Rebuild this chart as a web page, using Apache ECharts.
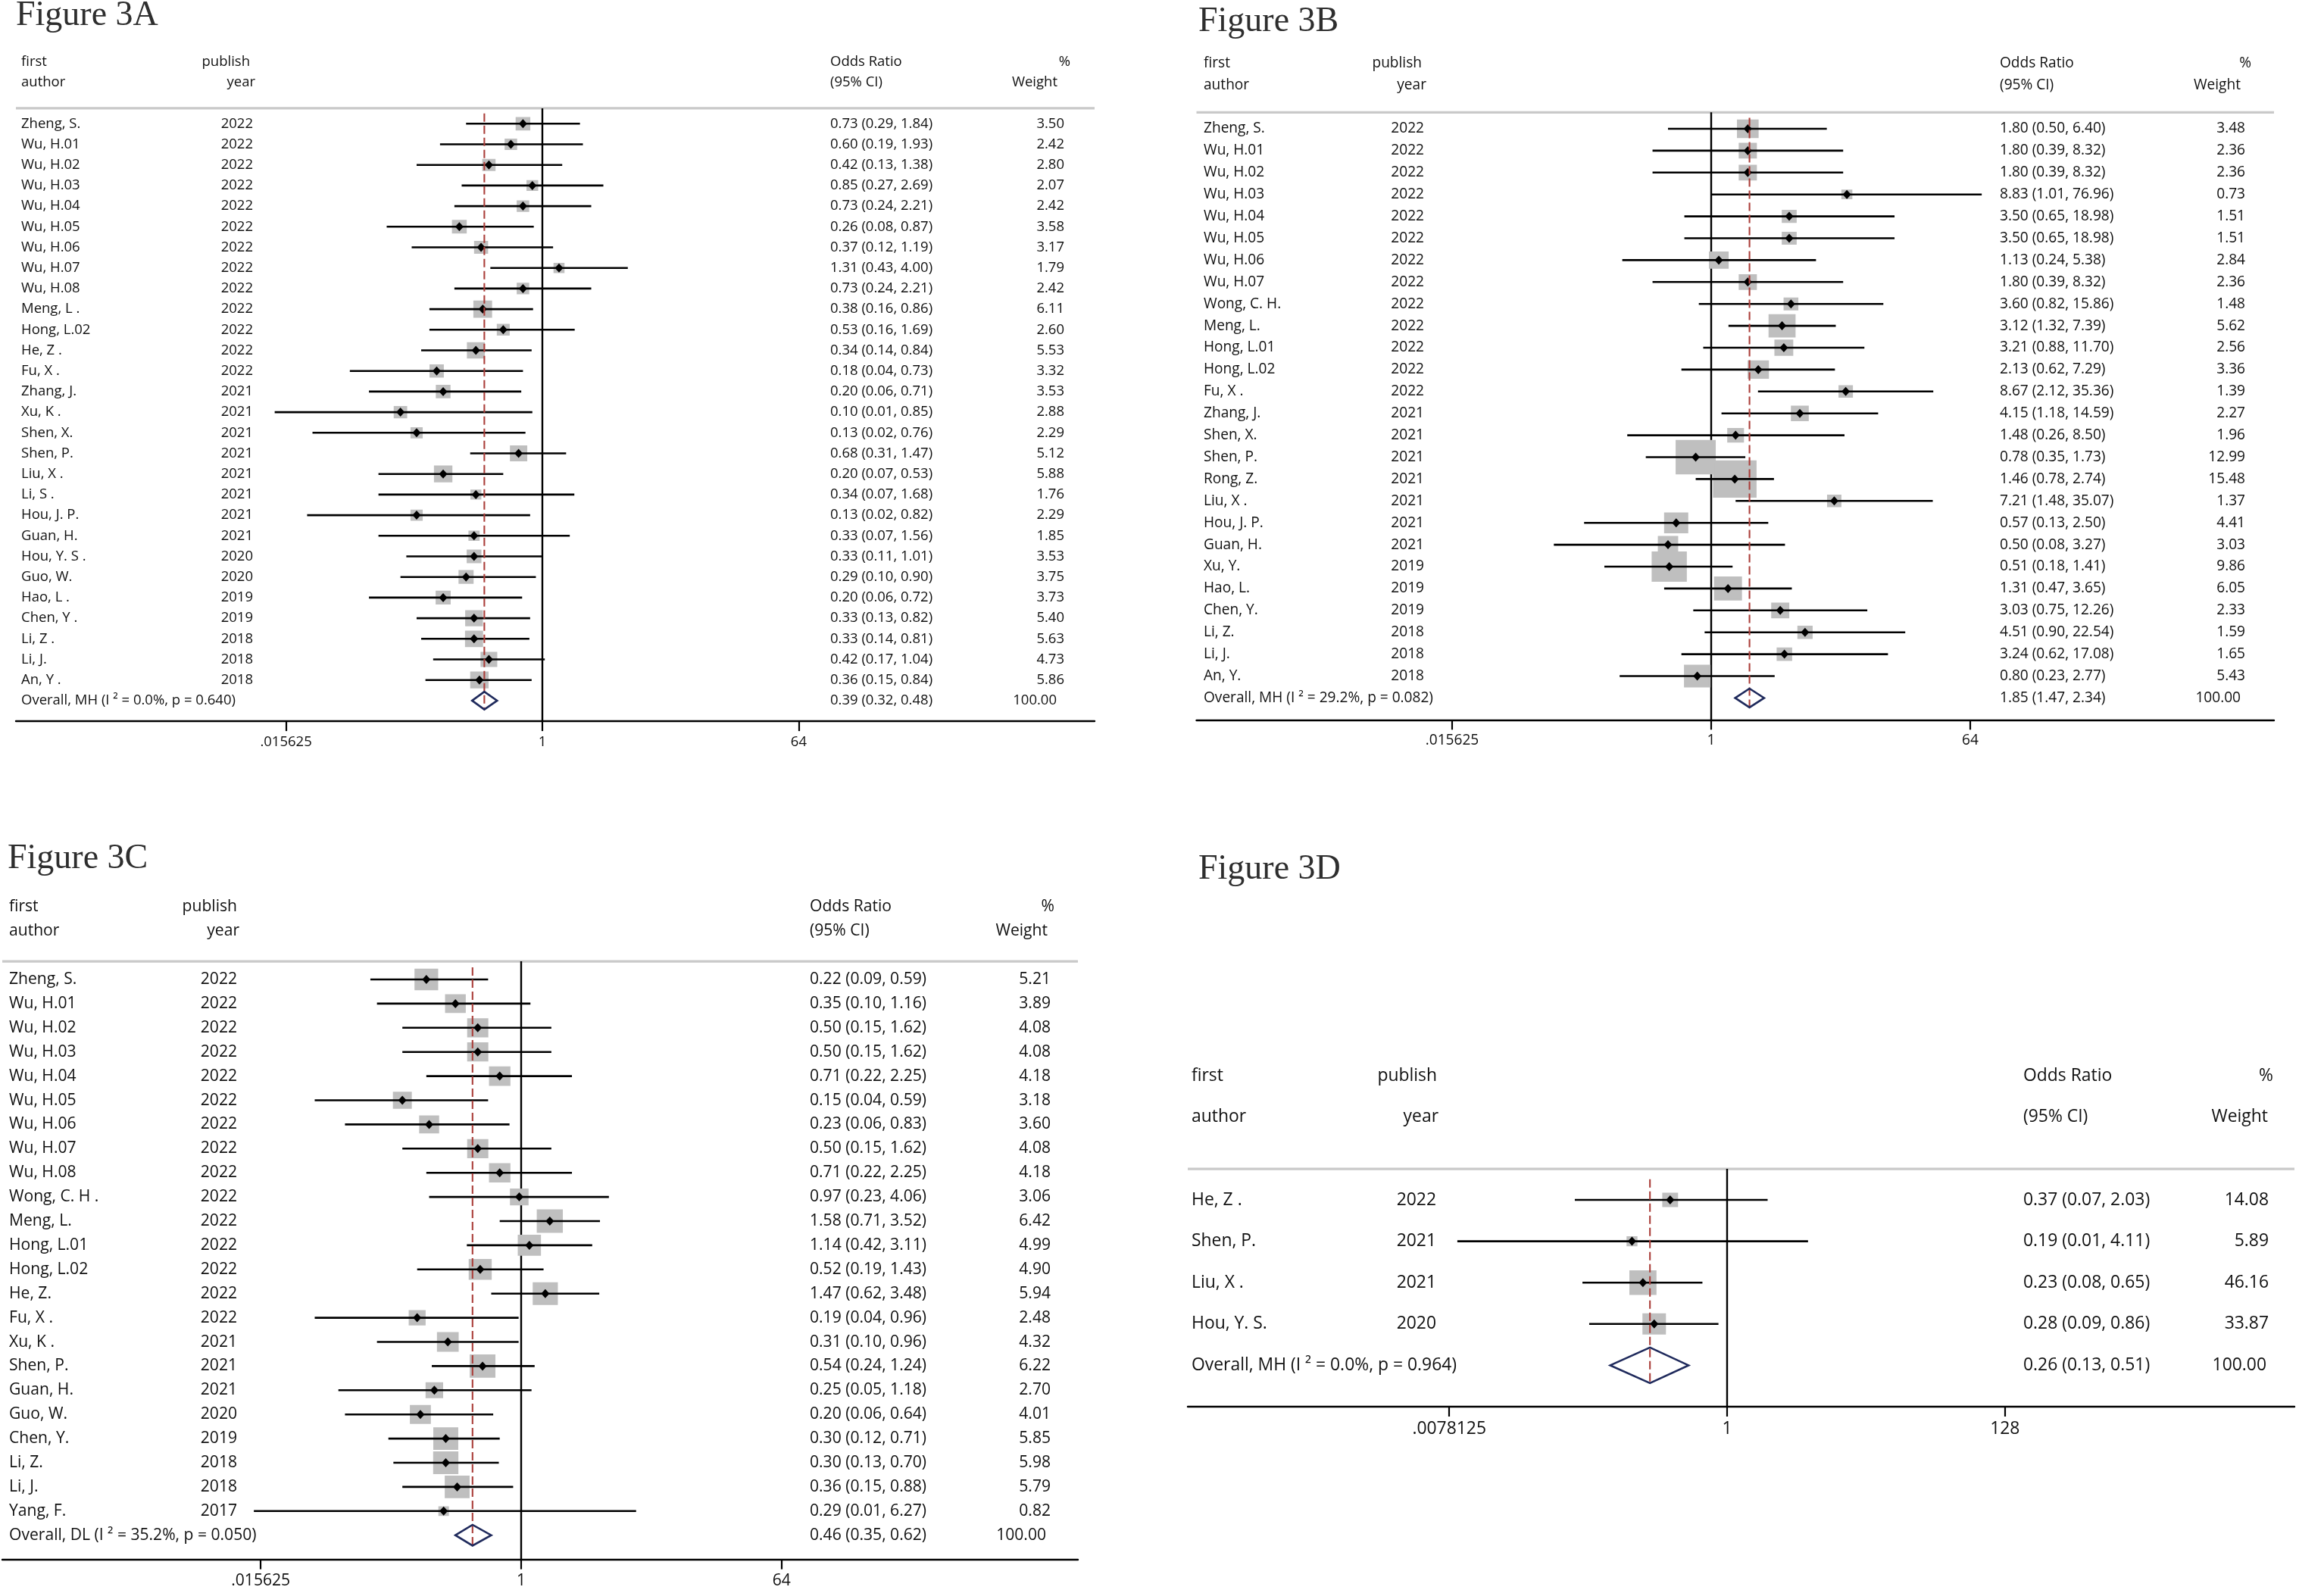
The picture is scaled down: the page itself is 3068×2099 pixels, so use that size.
<!DOCTYPE html>
<html lang="en">
<head>
<meta charset="utf-8">
<title>Figure 3 forest plots</title>
<script src="https://cdn.jsdelivr.net/npm/echarts@6.0.0/dist/echarts.min.js"></script>
<style>html,body{margin:0;padding:0;background:#fff;}</style>
</head>
<body>
<div id="main" style="width:3068px;height:2099px;"></div>
<script>
// ---- Figure 3A ----
var authorsA = ['Zheng, S.', 'Wu, H.01', 'Wu, H.02', 'Wu, H.03', 'Wu, H.04', 'Wu, H.05', 'Wu, H.06', 'Wu, H.07', 'Wu, H.08',
  'Meng, L .', 'Hong, L.02', 'He, Z .', 'Fu, X .', 'Zhang, J.', 'Xu, K .', 'Shen, X.', 'Shen, P.', 'Liu, X .', 'Li, S .',
  'Hou, J. P.', 'Guan, H.', 'Hou, Y. S .', 'Guo, W.', 'Hao, L .', 'Chen, Y .', 'Li, Z .', 'Li, J.', 'An, Y .'];
var yearsA = [2022, 2022, 2022, 2022, 2022, 2022, 2022, 2022, 2022, 2022, 2022, 2022, 2022, 2021, 2021, 2021, 2021, 2021, 2021,
  2021, 2021, 2020, 2020, 2019, 2019, 2018, 2018, 2018];
var orA = [0.73, 0.60, 0.42, 0.85, 0.73, 0.26, 0.37, 1.31, 0.73, 0.38, 0.53, 0.34, 0.18, 0.20, 0.10, 0.13, 0.68, 0.20, 0.34,
  0.13, 0.33, 0.33, 0.29, 0.20, 0.33, 0.33, 0.42, 0.36];
var lowA = [0.29, 0.19, 0.13, 0.27, 0.24, 0.08, 0.12, 0.43, 0.24, 0.16, 0.16, 0.14, 0.044, 0.06, 0.013, 0.024, 0.31, 0.07, 0.07,
  0.022, 0.07, 0.11, 0.10, 0.06, 0.13, 0.14, 0.17, 0.15];
var highA = [1.84, 1.93, 1.38, 2.69, 2.21, 0.87, 1.19, 4.00, 2.21, 0.86, 1.69, 0.84, 0.73, 0.71, 0.85, 0.76, 1.47, 0.53, 1.68,
  0.82, 1.56, 1.01, 0.90, 0.72, 0.82, 0.81, 1.04, 0.84];
var weightA = [3.50, 2.42, 2.80, 2.07, 2.42, 3.58, 3.17, 1.79, 2.42, 6.11, 2.60, 5.53, 3.32, 3.53, 2.88, 2.29, 5.12, 5.88, 1.76,
  2.29, 1.85, 3.53, 3.75, 3.73, 5.40, 5.63, 4.73, 5.86];
var overallA = [0.39, 0.32, 0.48, 100.00];
var overallLabelA = 'Overall, MH (I \u00b2 = 0.0%, p = 0.640)';

// ---- Figure 3B ----
var authorsB = ['Zheng, S.', 'Wu, H.01', 'Wu, H.02', 'Wu, H.03', 'Wu, H.04', 'Wu, H.05', 'Wu, H.06', 'Wu, H.07', 'Wong, C. H.',
  'Meng, L.', 'Hong, L.01', 'Hong, L.02', 'Fu, X .', 'Zhang, J.', 'Shen, X.', 'Shen, P.', 'Rong, Z.', 'Liu, X .', 'Hou, J. P.',
  'Guan, H.', 'Xu, Y.', 'Hao, L.', 'Chen, Y.', 'Li, Z.', 'Li, J.', 'An, Y.'];
var yearsB = [2022, 2022, 2022, 2022, 2022, 2022, 2022, 2022, 2022, 2022, 2022, 2022, 2022, 2021, 2021, 2021, 2021, 2021, 2021,
  2021, 2019, 2019, 2019, 2018, 2018, 2018];
var orB = [1.80, 1.80, 1.80, 8.83, 3.50, 3.50, 1.13, 1.80, 3.60, 3.12, 3.21, 2.13, 8.67, 4.15, 1.48, 0.78, 1.46, 7.21, 0.57,
  0.50, 0.51, 1.31, 3.03, 4.51, 3.24, 0.80];
var lowB = [0.50, 0.39, 0.39, 1.01, 0.65, 0.65, 0.24, 0.39, 0.82, 1.32, 0.88, 0.62, 2.12, 1.18, 0.26, 0.35, 0.78, 1.48, 0.13,
  0.08, 0.18, 0.47, 0.75, 0.90, 0.62, 0.23];
var highB = [6.40, 8.32, 8.32, 76.96, 18.98, 18.98, 5.38, 8.32, 15.86, 7.39, 11.70, 7.29, 35.36, 14.59, 8.50, 1.73, 2.74, 35.07,
  2.50, 3.27, 1.41, 3.65, 12.26, 22.54, 17.08, 2.77];
var weightB = [3.48, 2.36, 2.36, 0.73, 1.51, 1.51, 2.84, 2.36, 1.48, 5.62, 2.56, 3.36, 1.39, 2.27, 1.96, 12.99, 15.48, 1.37, 4.41,
  3.03, 9.86, 6.05, 2.33, 1.59, 1.65, 5.43];
var overallB = [1.85, 1.47, 2.34, 100.00];
var overallLabelB = 'Overall, MH (I \u00b2 = 29.2%, p = 0.082)';

// ---- Figure 3C ----
var authorsC = ['Zheng, S.', 'Wu, H.01', 'Wu, H.02', 'Wu, H.03', 'Wu, H.04', 'Wu, H.05', 'Wu, H.06', 'Wu, H.07', 'Wu, H.08',
  'Wong, C. H .', 'Meng, L.', 'Hong, L.01', 'Hong, L.02', 'He, Z.', 'Fu, X .', 'Xu, K .', 'Shen, P.', 'Guan, H.', 'Guo, W.',
  'Chen, Y.', 'Li, Z.', 'Li, J.', 'Yang, F.'];
var yearsC = [2022, 2022, 2022, 2022, 2022, 2022, 2022, 2022, 2022, 2022, 2022, 2022, 2022, 2022, 2022, 2021, 2021, 2021, 2020,
  2019, 2018, 2018, 2017];
var orC = [0.22, 0.35, 0.50, 0.50, 0.71, 0.15, 0.23, 0.50, 0.71, 0.97, 1.58, 1.14, 0.52, 1.47, 0.19, 0.31, 0.54, 0.25, 0.20,
  0.30, 0.30, 0.36, 0.29];
var lowC = [0.09, 0.10, 0.15, 0.15, 0.22, 0.037, 0.06, 0.15, 0.22, 0.23, 0.71, 0.42, 0.19, 0.62, 0.037, 0.10, 0.24, 0.054, 0.06,
  0.12, 0.13, 0.15, 0.014];
var highC = [0.59, 1.16, 1.62, 1.62, 2.25, 0.59, 0.83, 1.62, 2.25, 4.06, 3.52, 3.11, 1.43, 3.48, 0.96, 0.96, 1.24, 1.18, 0.64,
  0.71, 0.70, 0.88, 6.27];
var weightC = [5.21, 3.89, 4.08, 4.08, 4.18, 3.18, 3.60, 4.08, 4.18, 3.06, 6.42, 4.99, 4.90, 5.94, 2.48, 4.32, 6.22, 2.70, 4.01,
  5.85, 5.98, 5.79, 0.82];
var overallC = [0.46, 0.35, 0.62, 100.00];
var overallLabelC = 'Overall, DL (I \u00b2 = 35.2%, p = 0.050)';

// ---- Figure 3D ----
var authorsD = ['He, Z .', 'Shen, P.', 'Liu, X .', 'Hou, Y. S.'];
var yearsD = [2022, 2021, 2021, 2020];
var orD = [0.37, 0.19, 0.23, 0.28];
var lowD = [0.07, 0.009, 0.08, 0.09];
var highD = [2.03, 4.11, 0.65, 0.86];
var weightD = [14.08, 5.89, 46.16, 33.87];
var overallD = [0.26, 0.13, 0.51, 100.00];
var overallLabelD = 'Overall, MH (I \u00b2 = 0.0%, p = 0.964)';

// axis ticks (odds ratio scale) and their printed labels
var tickValuesABC = [0.015625, 1, 64];
var tickLabelsABC = ['.015625', '1', '64'];
var tickValuesD = [0.0078125, 1, 128];
var tickLabelsD = ['.0078125', '1', '128'];

var headerLeft = ['first', 'author'];
var headerYear = ['publish', 'year'];
var headerOR = ['Odds Ratio', '(95% CI)'];
var headerWeight = ['%', 'Weight'];

var FAMILY = '"Open Sans", "Noto Sans", sans-serif';
var TXT = '#111';

// pixel layout of the four panels
var panels = [
  { title: 'Figure 3A', titleX: 21, titleY: -2, authors: authorsA, years: yearsA, or: orA, low: lowA, high: highA,
    weight: weightA, overall: overallA, overallLabel: overallLabelA, ticks: tickValuesABC, tickLabels: tickLabelsABC,
    left: 21, right: 1445, row0: 163.3, step: 27.2, nullX: 716, unit: 56.4, fs: 18.5,
    cAuthor: 28, cYear: 334, cYearHead: [330, 337], cOR: 1096, cW: 1405, cWAll: 1395, cHead4: [1413, 1396], kw: 9, kh: 8.15 },
  { title: 'Figure 3B', titleX: 1582, titleY: 6, authors: authorsB, years: yearsB, or: orB, low: lowB, high: highB,
    weight: weightB, overall: overallB, overallLabel: overallLabelB, ticks: tickValuesABC, tickLabels: tickLabelsABC,
    left: 1579.5, right: 3002, row0: 170, step: 28.9, nullX: 2259, unit: 57, fs: 19.1,
    cAuthor: 1589, cYear: 1880, cYearHead: [1877, 1883], cOR: 2640, cW: 2964, cWAll: 2958, cHead4: [2972, 2958], kw: 14, kh: 11.9 },
  { title: 'Figure 3C', titleX: 10, titleY: 1111, authors: authorsC, years: yearsC, or: orC, low: lowC, high: highC,
    weight: weightC, overall: overallC, overallLabel: overallLabelC, ticks: tickValuesABC, tickLabels: tickLabelsABC,
    left: 3, right: 1423, row0: 1293, step: 31.9, nullX: 688, unit: 57.3, fs: 21.1,
    cAuthor: 12, cYear: 313, cYearHead: [313, 316], cOR: 1069, cW: 1387, cWAll: 1381, cHead4: [1392, 1383], kw: 12.6, kh: 11.3 },
  { title: 'Figure 3D', titleX: 1582, titleY: 1125, authors: authorsD, years: yearsD, or: orD, low: lowD, high: highD,
    weight: weightD, overall: overallD, overallLabel: overallLabelD, ticks: tickValuesD, tickLabels: tickLabelsD,
    left: 1568, right: 3029, row0: 1584, step: 54.6, nullX: 2280, unit: 52.4, fs: 22.9,
    cAuthor: 1573, cYear: 1896, cYearHead: [1897, 1899], cOR: 2671, cW: 2995, cWAll: 2992, cHead4: [3001, 2994], kw: 4.9, kh: 4.4 }
];

function ciText(o, l, h) {
  return o.toFixed(2) + ' (' + l.toFixed(2) + ', ' + h.toFixed(2) + ')';
}
function txt(s, x, y, align, fs) {
  return { type: 'text', x: x, y: y,
    style: { text: s, fill: TXT, fontSize: fs, fontFamily: FAMILY, align: align, verticalAlign: 'middle' } };
}

var chart = echarts.init(document.getElementById('main'));
var titles = [], grids = [], xAxes = [], yAxes = [], series = [];

panels.forEach(function (p, k) {
  var n = p.or.length;
  var fs = p.fs;
  var top = p.row0 - 3.5 * p.step;
  var bottom = p.row0 + (n + 1) * p.step;
  var logTicks = p.ticks.map(Math.log2);

  titles.push({
    text: p.title, left: p.titleX, top: p.titleY, padding: 0,
    textStyle: { fontFamily: '"Liberation Serif", "DejaVu Serif", serif', fontSize: 46, fontWeight: 'normal', color: '#2e2e2e' }
  });
  grids.push({ left: p.left, top: top, width: p.right - p.left, height: bottom - top });
  xAxes.push({
    type: 'value', gridIndex: k, position: 'bottom',
    min: (p.left - p.nullX) / p.unit, max: (p.right - p.nullX) / p.unit,
    axisLine: { show: true, onZero: false, lineStyle: { color: '#000', width: 2.4 } },
    axisTick: { show: true, customValues: logTicks, length: 13, lineStyle: { color: '#000', width: 2.2 } },
    axisLabel: {
      show: true, customValues: logTicks, margin: 18, fontSize: fs, color: TXT, fontFamily: FAMILY,
      formatter: function (v) {
        for (var t = 0; t < logTicks.length; t++) if (Math.abs(logTicks[t] - v) < 1e-9) return p.tickLabels[t];
        return '';
      }
    },
    splitLine: { show: false }
  });
  yAxes.push({ type: 'value', gridIndex: k, inverse: true, min: -3.5, max: n + 1, show: false });

  // background: headers, separator, null line
  series.push({
    type: 'custom', xAxisIndex: k, yAxisIndex: k, silent: true, clip: false, z: 1,
    data: [[0, 0]], encode: { x: 0, y: 1 },
    renderItem: function (params, api) {
      var yh1 = api.coord([0, -3])[1], yh2 = api.coord([0, -2])[1];
      var ySep = api.coord([0, -0.75])[1], yAx = api.coord([0, n + 1])[1];
      var x0 = api.coord([0, 0])[0];
      return { type: 'group', children: [
        { type: 'line', shape: { x1: p.left, y1: ySep, x2: p.right, y2: ySep }, style: { stroke: '#c9c9c9', lineWidth: 3.2 } },
        { type: 'line', shape: { x1: x0, y1: ySep, x2: x0, y2: yAx }, style: { stroke: '#000', lineWidth: 2.4 } },
        txt(headerLeft[0], p.cAuthor, yh1, 'left', fs), txt(headerLeft[1], p.cAuthor, yh2, 'left', fs),
        txt(headerYear[0], p.cYearHead[0], yh1, 'right', fs), txt(headerYear[1], p.cYearHead[1], yh2, 'right', fs),
        txt(headerOR[0], p.cOR, yh1, 'left', fs), txt(headerOR[1], p.cOR, yh2, 'left', fs),
        txt(headerWeight[0], p.cHead4[0], yh1, 'right', fs), txt(headerWeight[1], p.cHead4[1], yh2, 'right', fs)
      ] };
    }
  });

  // studies
  series.push({
    type: 'custom', xAxisIndex: k, yAxisIndex: k, silent: true, clip: false, z: 2,
    data: p.or.map(function (v, i) { return [Math.log2(v), Math.log2(p.low[i]), Math.log2(p.high[i]), i, p.weight[i]]; }),
    encode: { x: 0, y: 3 },
    renderItem: function (params, api) {
      var i = params.dataIndex;
      var c = api.coord([api.value(0), api.value(3)]);
      var lo = api.coord([api.value(1), api.value(3)])[0];
      var hi = api.coord([api.value(2), api.value(3)])[0];
      var s = Math.sqrt(api.value(4));
      var bw = p.kw * s, bh = p.kh * s;
      var cx = c[0], cy = c[1];
      return { type: 'group', children: [
        { type: 'rect', shape: { x: cx - bw / 2, y: cy - bh / 2, width: bw, height: bh },
          style: { fill: '#bfbfbf', stroke: '#bfbfbf', lineWidth: 2.5 } },
        { type: 'line', shape: { x1: lo, y1: cy, x2: hi, y2: cy }, style: { stroke: '#000', lineWidth: 2.6 } },
        { type: 'polygon', shape: { points: [[cx - 5.5, cy], [cx, cy - 6], [cx + 5.5, cy], [cx, cy + 6]] }, style: { fill: '#000' } },
        txt(p.authors[i], p.cAuthor, cy, 'left', fs),
        txt(String(p.years[i]), p.cYear, cy, 'right', fs),
        txt(ciText(p.or[i], p.low[i], p.high[i]), p.cOR, cy, 'left', fs),
        txt(p.weight[i].toFixed(2), p.cW, cy, 'right', fs)
      ] };
    }
  });

  // overall estimate, dashed reference line
  series.push({
    type: 'custom', xAxisIndex: k, yAxisIndex: k, silent: true, clip: false, z: 3,
    data: [[Math.log2(p.overall[0]), Math.log2(p.overall[1]), Math.log2(p.overall[2]), n]],
    encode: { x: 0, y: 3 },
    renderItem: function (params, api) {
      var c = api.coord([api.value(0), api.value(3)]);
      var lo = api.coord([api.value(1), api.value(3)])[0];
      var hi = api.coord([api.value(2), api.value(3)])[0];
      var yTop = api.coord([0, -0.5])[1], yBot = api.coord([0, n + 0.45])[1];
      var hh = 0.43 * p.step;
      var cx = c[0], cy = c[1];
      return { type: 'group', children: [
        { type: 'line', shape: { x1: cx, y1: yTop, x2: cx, y2: yBot },
          style: { stroke: '#ab3f3b', lineWidth: 2.1, lineDash: [11, 5] } },
        { type: 'polygon', shape: { points: [[lo, cy], [cx, cy - hh], [hi, cy], [cx, cy + hh]] },
          style: { fill: 'none', stroke: '#1f2a5c', lineWidth: 2.6 } },
        txt(p.overallLabel, p.cAuthor, cy, 'left', fs),
        txt(ciText(p.overall[0], p.overall[1], p.overall[2]), p.cOR, cy, 'left', fs),
        txt(p.overall[3].toFixed(2), p.cWAll, cy, 'right', fs)
      ] };
    }
  });
});

chart.setOption({
  backgroundColor: '#fff',
  animation: false,
  title: titles,
  grid: grids,
  xAxis: xAxes,
  yAxis: yAxes,
  series: series
});
</script>
</body>
</html>
